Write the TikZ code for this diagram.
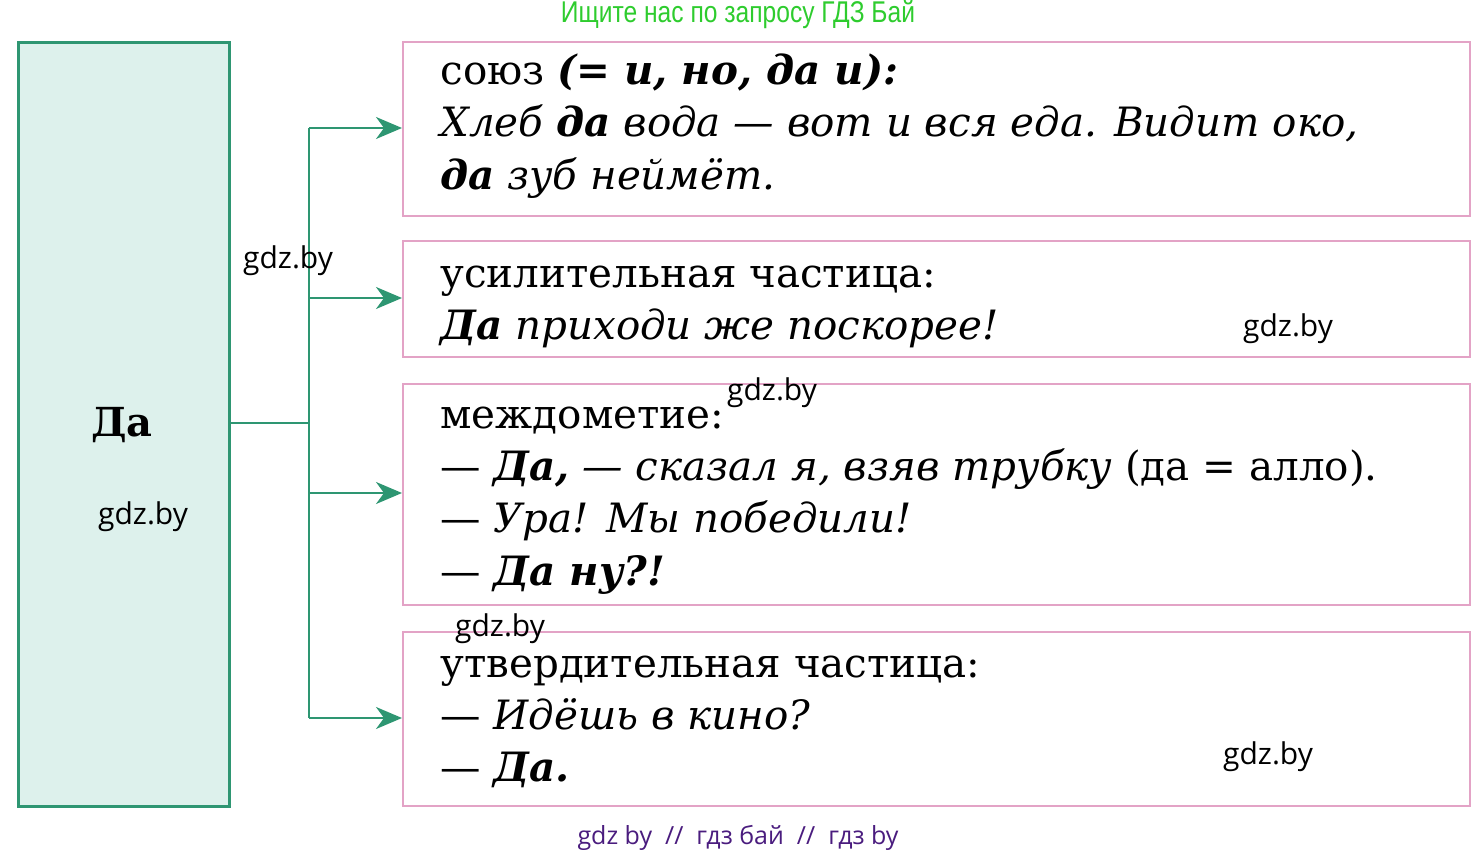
\documentclass[tikz,border=0pt]{standalone}
\usepackage{fontspec}
\setmainfont{DejaVu Serif}
\newfontfamily\wmfont{Open Sans}
\newfontfamily\narrowsans[FakeStretch=0.82]{Liberation Sans}
\usetikzlibrary{arrows.meta}
\definecolor{boxgreen}{HTML}{2E9672}
\definecolor{boxfill}{HTML}{DDF1EC}
\definecolor{pinkline}{HTML}{E3A3C6}
\definecolor{topgreen}{HTML}{2ECC2E}
\definecolor{botpurple}{HTML}{4A1C7E}
\tikzset{
  ex/.style={anchor=base west, inner sep=0pt, font=\fontsize{20.2pt}{24pt}\selectfont},
  pinkbox/.style={draw=pinkline, line width=1pt},
  conn/.style={draw=boxgreen, line width=1pt},
  arr/.style={conn, -{Stealth[length=13pt, width=11pt, inset=4pt]}},
  wm/.style={font=\wmfont\fontsize{15pt}{18pt}\selectfont, inner sep=0pt, text=black}
}
\newcommand{\bi}[1]{\textbf{\textit{#1}}}
\begin{document}
\begin{tikzpicture}[x=0.5pt, y=-0.5pt]
\useasboundingbox (0,0) rectangle (1478,856);
% left box
\node[draw=boxgreen, fill=boxfill, line width=1.5pt, minimum width=105.5pt, minimum height=382pt, inner sep=0pt, anchor=north west] (da) at (17,41) {};
\node[inner sep=0pt, font=\fontsize{20pt}{24pt}\selectfont\bfseries] (datext) at (122,425) {Да};
% right boxes
\node[pinkbox, anchor=north west, minimum width=533.5pt, minimum height=87pt, inner sep=0pt] (b1) at (402,41) {};
\node[pinkbox, anchor=north west, minimum width=533.5pt, minimum height=58pt, inner sep=0pt] (b2) at (402,240) {};
\node[pinkbox, anchor=north west, minimum width=533.5pt, minimum height=110.5pt, inner sep=0pt] (b3) at (402,383) {};
\node[pinkbox, anchor=north west, minimum width=533.5pt, minimum height=87pt, inner sep=0pt] (b4) at (402,631) {};
% connectors
\coordinate (j) at (309,423);
\coordinate (jt) at (309,128);
\coordinate (jb) at (309,718);
\coordinate (j2) at (309,298);
\coordinate (j3) at (309,493);
\draw[conn] (da.east |- j) -- (j);
\draw[conn] (jt) -- (jb);
\draw[arr] (jt) -- (b1.west |- jt);
\draw[arr] (j2) -- (b2.west |- j2);
\draw[arr] (j3) -- (b3.west |- j3);
\draw[arr] (jb) -- (b4.west |- jb);
% box 1 text
\node[ex] (t11) at (440,85) {союз \bi{(= и, но, да и):}};
\node[ex] (t12) at (440,137) {\textit{Хлеб} \bi{да} \textit{вода — вот и вся еда. Видит око,}};
\node[ex] (t13) at (440,190) {\bi{да} \textit{зуб неймёт.}};
% box 2 text
\node[ex] (t21) at (440,287) {усилительная частица:};
\node[ex] (t22) at (440,339) {\bi{Да} \textit{приходи же поскорее!}};
% box 3 text
\node[ex] (t31) at (440,428) {междометие:};
\node[ex] (t32) at (440,480) {— \bi{Да,} \textit{— сказал я, взяв трубку} (да = алло).};
\node[ex] (t33) at (440,532) {— \textit{Ура! Мы победили!}};
\node[ex] (t34) at (440,585) {— \bi{Да ну?!}};
% box 4 text
\node[ex] (t41) at (440,677) {утвердительная частица:};
\node[ex] (t42) at (440,729) {— \textit{Идёшь в кино?}};
\node[ex] (t43) at (440,781) {— \bi{Да.}};
% watermarks
\node[wm] (w1) at (288,261) {gdz.by};
\node[wm] (w2) at (1288,329) {gdz.by};
\node[wm] (w3) at (772,393) {gdz.by};
\node[wm] (w4) at (143,517) {gdz.by};
\node[wm] (w5) at (500,629) {gdz.by};
\node[wm] (w6) at (1268,757) {gdz.by};
\node[inner sep=0pt, anchor=base, text=topgreen, font=\narrowsans\fontsize{15pt}{18pt}\selectfont] (top) at (738,23) {Ищите нас по запросу ГДЗ Бай};
\node[inner sep=0pt, text=botpurple, font=\wmfont\fontsize{12.5pt}{15pt}\selectfont] (bot) at (738,838) {gdz by \ // \ гдз бай \ // \ гдз by};
\end{tikzpicture}
\end{document}
